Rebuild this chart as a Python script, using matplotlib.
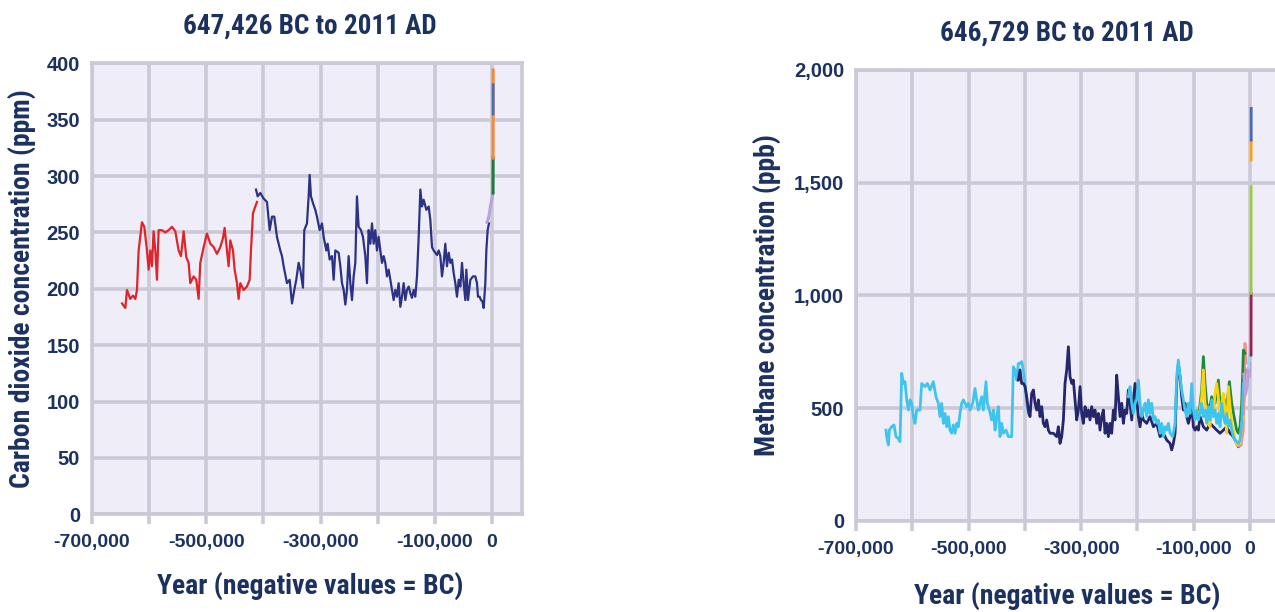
import matplotlib
matplotlib.use("Agg")
import matplotlib.pyplot as plt
from matplotlib import font_manager as fm
import numpy as np

# ---------------------------------------------------------------- data
# Carbon dioxide (ppm)
co2_old_years = [-647426, -641700, -638800, -633000, -628300, -624200, -621300, -618400,
                 -612600, -608500, -603800, -600900, -598000, -595100, -592200, -589200,
                 -586300, -583400, -577600, -571700, -565900, -560100, -554200, -548400,
                 -544300, -539600, -535000, -530900, -528000, -522100, -517500, -513400,
                 -510500, -504600, -498800, -493000, -487100, -481300, -475500, -470800,
                 -467900, -463800, -460900, -458000, -453300, -450400, -446300, -443400,
                 -440500, -434600, -428800, -424100, -421800, -418300, -414200, -411300]
co2_old_ppm = [187, 183, 199, 191, 194, 191, 199, 234,
               259, 255, 234, 217, 234, 220, 251, 234,
               208, 252, 252, 250, 252, 255, 251, 234,
               229, 251, 228, 223, 205, 211, 208, 191,
               223, 237, 249, 240, 237, 231, 237, 245,
               254, 234, 220, 243, 234, 217, 205, 191,
               205, 199, 202, 208, 234, 267, 273, 277]

co2_vostok_years = [-413000, -410100, -405500, -399600, -393800, -389100, -385000, -381000,
                    -376300, -370500, -367500, -364600, -358800, -354100, -350000, -346000,
                    -342500, -338400, -335500, -330800, -328500, -323800, -320900, -319100,
                    -316800, -313300, -309200, -306300, -301600, -297500, -294600, -290000,
                    -287600, -284100, -280000, -277100, -274200, -268400, -265400, -262500,
                    -259600, -256700, -253800, -250900, -247900, -245000, -242100, -239200,
                    -236300, -233400, -229300, -225800, -221700, -218800, -215900, -212900,
                    -210000, -207100, -204200, -201300, -198400, -195400, -192500, -189600,
                    -186700, -183800, -180900, -177900, -175000, -172100, -169200, -166300,
                    -163400, -160400, -157500, -154600, -151700, -148800, -145800, -142900,
                    -140000, -137100, -134200, -131300, -128300, -125400, -122500, -119600,
                    -114900, -110800, -107900, -105000, -102100, -99200, -96300, -93300,
                    -90400, -87500, -84600, -81700, -78800, -75800, -72900, -70000,
                    -67100, -64200, -61300, -58300, -55400, -52500, -49600, -46700,
                    -44900, -42000, -37900, -33300, -29200, -26300, -24500, -21600,
                    -19300, -16900, -14600, -11700, -9900, -7600, -5300]
co2_vostok_ppm = [288, 282, 285, 280, 277, 252, 264, 264,
                  246, 234, 229, 220, 205, 208, 187, 199,
                  208, 223, 217, 201, 252, 258, 282, 301,
                  282, 276, 270, 264, 252, 258, 246, 234,
                  240, 226, 229, 208, 234, 232, 220, 205,
                  199, 186, 199, 229, 205, 190, 211, 223,
                  282, 255, 252, 246, 229, 205, 252, 240,
                  258, 240, 252, 234, 246, 234, 223, 229,
                  223, 211, 217, 208, 199, 190, 199, 193,
                  205, 184, 193, 205, 190, 199, 202, 196,
                  192, 199, 193, 211, 246, 288, 273, 279,
                  270, 273, 261, 237, 234, 232, 230, 234,
                  229, 211, 223, 240, 220, 232, 223, 226,
                  214, 205, 193, 208, 202, 223, 205, 190,
                  217, 190, 208, 211, 211, 205, 193, 193,
                  190, 189, 183, 205, 234, 252, 258]

co2_holocene_years = [-8800, -6500, -4500, -2500, -800, 1700]
co2_holocene_ppm = [259, 262, 267, 274, 278, 285]
co2_preind_years = [1750, 1958]
co2_preind_ppm = [285, 316]
co2_modern_years = [1958, 2011]
co2_modern_ppm = [316, 394]
co2_station_years = [1990, 2008]
co2_station_ppm = [355, 381]

# Methane (ppb)
ch4_epica_years = [-646729, -645500, -642500, -640800, -636600, -632500, -628900, -624800,
                   -621800, -618800, -615900, -612900, -609900, -607000, -604000, -601100,
                   -598100, -595200, -592200, -586300, -583300, -577400, -573200, -568500,
                   -562600, -557900, -553700, -550800, -547800, -544800, -541900, -538900,
                   -535900, -533000, -530000, -527100, -524100, -521100, -518200, -515200,
                   -512300, -509300, -503400, -500400, -497400, -492700, -488600, -485600,
                   -482600, -479700, -476700, -473800, -469000, -466700, -463100, -459000,
                   -456000, -453000, -450100, -447100, -444200, -441200, -438200, -433500,
                   -429300, -423400, -420500, -417500, -414500, -411600, -408600, -405700,
                   -402700, -399700, -396800, -393800]
ch4_epica_ppb = [402, 373, 336, 402, 417, 425, 373, 365,
                 351, 654, 609, 617, 536, 491, 536, 521,
                 462, 432, 491, 491, 609, 595, 609, 580,
                 617, 550, 521, 462, 521, 432, 476, 417,
                 462, 402, 388, 425, 388, 432, 417, 476,
                 521, 536, 506, 521, 491, 521, 587, 536,
                 491, 521, 550, 491, 617, 521, 491, 447,
                 491, 402, 462, 506, 373, 432, 388, 402,
                 373, 373, 683, 669, 624, 698, 698, 706,
                 669, 609, 521, 476]

ch4_vostok_years = [-411600, -408600, -405700, -402700, -399700, -396800, -393800, -390900,
                    -387900, -384900, -382000, -379000, -376000, -373100, -370100, -367200,
                    -364200, -361200, -358300, -355300, -349400, -343500, -340500, -337600,
                    -334600, -331600, -328700, -325700, -322700, -319800, -316800, -313900,
                    -310900, -307900, -305000, -302000, -299100, -296100, -293100, -290200,
                    -287200, -284300, -281300, -278300, -275400, -272400, -269500, -266500,
                    -263500, -260600, -257600, -254600, -251700, -248700, -245800, -242800,
                    -239800, -236900, -233900, -231000, -228000, -225000, -222100, -219100,
                    -216200, -213200, -210200, -207300, -204300, -201300, -198400, -195400,
                    -192500, -189500, -183600, -177700, -171700, -165800, -159900, -154000,
                    -148100, -142100, -139200, -136200, -133200, -130300, -127300, -124400,
                    -121400, -118400, -115500, -112500, -109600, -106600, -103600, -100700,
                    -97700, -94800, -91800, -88800, -82900, -77000, -71100, -65100,
                    -59200, -53300, -47400, -41500, -35500, -29600, -23700, -20700,
                    -17800, -14800, -11800, -8900]
ch4_vostok_ppb = [624, 669, 609, 609, 595, 550, 491, 462,
                  565, 580, 521, 491, 536, 462, 506, 432,
                  417, 447, 402, 388, 388, 373, 417, 343,
                  373, 447, 609, 669, 772, 639, 609, 624,
                  536, 447, 491, 595, 476, 432, 506, 462,
                  491, 447, 506, 462, 491, 432, 476, 402,
                  462, 491, 388, 432, 373, 432, 388, 491,
                  447, 646, 550, 462, 521, 432, 491, 476,
                  580, 521, 447, 536, 609, 536, 462, 417,
                  476, 447, 432, 462, 417, 432, 373, 388,
                  358, 343, 314, 343, 388, 609, 698, 639,
                  550, 491, 521, 462, 432, 462, 521, 417,
                  402, 417, 402, 462, 417, 402, 432, 417,
                  402, 388, 402, 417, 388, 373, 343, 328,
                  336, 388, 491, 669]

ch4_epica_recent_years = [-216200, -213200, -210200, -207300, -204300, -201300, -198400, -195400,
                          -192500, -189500, -186500, -183600, -180600, -177700, -174700, -171700,
                          -168800, -165800, -162900, -159900, -156900, -154000, -151000, -148100,
                          -145100, -142100, -137400, -133200, -130300, -127300, -124400, -121400,
                          -118400, -115500, -112500, -109600, -106600, -103600, -100700, -97700,
                          -94800, -91800, -88800, -85900, -82900, -79900, -77000, -74000,
                          -71100, -68100, -65100, -62200, -59200, -56300, -53300, -50300,
                          -47400, -44400, -41500, -38500, -35500, -32600, -29600, -26600,
                          -23700, -20700, -17800, -14800, -11800]
ch4_epica_recent_ppb = [550, 595, 521, 476, 521, 536, 624, 521,
                        462, 491, 521, 462, 536, 476, 521, 447,
                        462, 432, 447, 388, 432, 373, 417, 402,
                        432, 388, 373, 432, 639, 713, 639, 580,
                        536, 491, 462, 521, 476, 609, 491, 447,
                        491, 447, 476, 521, 462, 491, 432, 506,
                        447, 536, 462, 491, 432, 476, 417, 521,
                        462, 432, 476, 417, 447, 402, 373, 358,
                        351, 343, 358, 432, 609]

ch4_gisp_years = [-91800, -88800, -85900, -82900, -79900, -77000, -74000, -71100,
                  -68100, -65100, -62200, -59200, -56300, -53300, -50300, -47400,
                  -44400, -41500, -38500, -35500, -32600, -29600, -26600, -23700,
                  -20700, -17800, -14800, -11800]
ch4_gisp_ppb = [462, 491, 550, 669, 521, 491, 432, 417,
                521, 462, 565, 609, 550, 432, 521, 565,
                491, 388, 595, 506, 432, 402, 358, 336,
                343, 343, 432, 462]

ch4_grip_years = [-90000, -85900, -82900, -79900, -77000, -72200, -68100, -62200,
                  -56300, -53300, -47400, -41500, -36700, -32600, -28400, -23700,
                  -20700, -17800, -14800, -11800, -8900]
ch4_grip_ppb = [491, 580, 728, 609, 521, 491, 550, 521,
                624, 521, 550, 506, 617, 521, 462, 402,
                388, 417, 521, 757, 743]

ch4_ngrip_years = [-24000, -20000, -16000, -12000, -9000, -7000]
ch4_ngrip_ppb = [340, 330, 335, 400, 787, 700]

ch4_law_years = [-11000, -8000, -5000, -3000, -1000, 0]
ch4_law_ppb = [650, 560, 600, 680, 640, 700]
ch4_eurocore_years = [-3000, -1000, 1000]
ch4_eurocore_ppb = [680, 740, 720]
ch4_firn_years = [1750, 1900]
ch4_firn_ppb = [735, 1009]
ch4_preind_years = [1900, 1985]
ch4_preind_ppb = [1009, 1482]
ch4_station1_years = [1985, 1995]
ch4_station1_ppb = [1601, 1689]
ch4_station2_years = [1995, 2011]
ch4_station2_ppb = [1689, 1830]

x_ticks = [-700000, -600000, -500000, -400000, -300000, -200000, -100000, 0]
x_tick_labels = ["-700,000", "", "-500,000", "", "-300,000", "", "-100,000", "0"]
co2_ticks = [0, 50, 100, 150, 200, 250, 300, 350, 400]
co2_tick_labels = ["0", "50", "100", "150", "200", "250", "300", "350", "400"]
ch4_ticks = [0, 500, 1000, 1500, 2000]
ch4_tick_labels = ["0", "500", "1,000", "1,500", "2,000"]

# ---------------------------------------------------------------- style
def pick_font(candidates):
    for name in candidates:
        try:
            fm.findfont(fm.FontProperties(family=name, weight="bold"),
                        fallback_to_default=False)
            return name
        except ValueError:
            continue
    return "DejaVu Sans"


NARROW = pick_font(["Liberation Sans Narrow", "Roboto Condensed",
                    "Open Sans Condensed", "Liberation Sans"])
NORMAL = pick_font(["Liberation Sans", "Arial", "Roboto", "DejaVu Sans"])

NAVY_TEXT = "#1c3160"
PANEL_BG = "#efedf7"
GRID = "#cbc9d6"

fig = plt.figure(figsize=(12.75, 6.12), dpi=100)
fig.patch.set_facecolor("white")

W, H = 1275.0, 612.0
# axes rectangles in pixels: left, top, right, bottom
ax_co2 = fig.add_axes([92 / W, 1 - 514.3 / H, (522 - 92) / W, (514.3 - 63.3) / H])
ax_ch4 = fig.add_axes([856 / W, 1 - 520.7 / H, (1279.6 - 856) / W, (520.7 - 70) / H])


def style_axes(ax, yticks, ylabels, ymax):
    ax.set_facecolor(PANEL_BG)
    ax.set_xlim(-700000, 52500)
    ax.set_ylim(0, ymax)
    ax.set_xticks(x_ticks)
    ax.set_xticklabels(x_tick_labels)
    ax.set_yticks(yticks)
    ax.set_yticklabels(ylabels)
    ax.set_axisbelow(True)
    ax.grid(True, color=GRID, linewidth=2.6)
    for sp in ax.spines.values():
        sp.set_color(GRID)
        sp.set_linewidth(2.6)
    ax.tick_params(axis="x", length=7.5, width=2.6, color=GRID, pad=7,
                   labelsize=14, labelcolor=NAVY_TEXT)
    ax.tick_params(axis="y", length=0, pad=8.5, labelsize=14.5, labelcolor=NAVY_TEXT)
    for lab in ax.get_xticklabels() + ax.get_yticklabels():
        lab.set_fontfamily(NORMAL)
        lab.set_fontweight("bold")


style_axes(ax_co2, co2_ticks, co2_tick_labels, 400)
style_axes(ax_ch4, ch4_ticks, ch4_tick_labels, 2000)

label_kw = dict(fontsize=20, fontweight="bold", color=NAVY_TEXT, family=NARROW)
title_kw = dict(ha="center", va="center", fontsize=19.5, fontweight="bold",
                color=NAVY_TEXT, family=NARROW)

# ---------------------------------------------------------------- CO2 panel
lw = 1.6
ax_co2.plot(co2_old_years, co2_old_ppm, color="#e0242b", lw=lw)
ax_co2.plot(co2_vostok_years, co2_vostok_ppm, color="#2c3285", lw=lw)
ax_co2.plot(co2_holocene_years, co2_holocene_ppm, color="#b9a3d8", lw=2.2)
ax_co2.plot(co2_preind_years, co2_preind_ppm, color="#1d7a3e", lw=2.2)
ax_co2.plot(co2_modern_years, co2_modern_ppm, color="#f28a3a", lw=2.2)
ax_co2.plot(co2_station_years, co2_station_ppm, color="#4b6db5", lw=2.0)

ax_co2.text(0.507, 1.083, "647,426 BC to 2011 AD", transform=ax_co2.transAxes,
            **title_kw)
ax_co2.set_ylabel("Carbon dioxide concentration (ppm)", **label_kw)
ax_co2.yaxis.set_label_coords(-0.163, 0.5)
ax_co2.yaxis.label.set_verticalalignment("center")
ax_co2.set_xlabel("Year (negative values = BC)", **label_kw)
ax_co2.xaxis.set_label_coords(0.507, -0.159)
ax_co2.xaxis.label.set_verticalalignment("center")

# ---------------------------------------------------------------- CH4 panel
lw2 = 2.0
ax_ch4.plot(ch4_epica_years, ch4_epica_ppb, color="#3ec5ef", lw=lw2)
ax_ch4.plot(ch4_vostok_years, ch4_vostok_ppb, color="#25266b", lw=lw2)
ax_ch4.plot(ch4_ngrip_years, ch4_ngrip_ppb, color="#f4918d", lw=lw2)
ax_ch4.plot(ch4_grip_years, ch4_grip_ppb, color="#1e8a3c", lw=lw2)
ax_ch4.plot(ch4_gisp_years, ch4_gisp_ppb, color="#fdd20b", lw=lw2)
ax_ch4.plot(ch4_epica_recent_years, ch4_epica_recent_ppb, color="#3ec5ef", lw=lw2)
ax_ch4.plot(ch4_law_years, ch4_law_ppb, color="#b9a3d8", lw=2.2)
ax_ch4.plot(ch4_eurocore_years, ch4_eurocore_ppb, color="#9dd3ee", lw=2.0)
ax_ch4.plot(ch4_firn_years, ch4_firn_ppb, color="#9b2050", lw=2.0)
ax_ch4.plot(ch4_preind_years, ch4_preind_ppb, color="#9acb4d", lw=2.0)
ax_ch4.plot(ch4_station1_years, ch4_station1_ppb, color="#f9a21d", lw=2.0)
ax_ch4.plot(ch4_station2_years, ch4_station2_ppb, color="#4a67b3", lw=2.0)

ax_ch4.text(0.498, 1.082, "646,729 BC to 2011 AD", transform=ax_ch4.transAxes,
            **title_kw)
ax_ch4.set_ylabel("Methane concentration (ppb)", **label_kw)
ax_ch4.yaxis.set_label_coords(-0.211, 0.5)
ax_ch4.yaxis.label.set_verticalalignment("center")
ax_ch4.set_xlabel("Year (negative values = BC)", **label_kw)
ax_ch4.xaxis.set_label_coords(0.498, -0.166)
ax_ch4.xaxis.label.set_verticalalignment("center")

fig.savefig("out.png", dpi=100, facecolor="white")
